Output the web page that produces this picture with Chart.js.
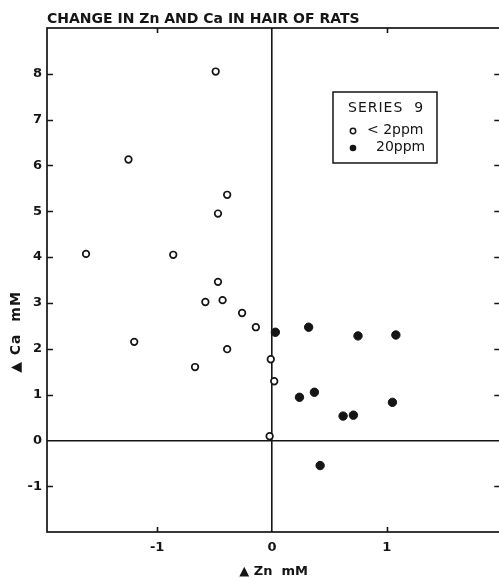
<!DOCTYPE html>
<html>
<head>
<meta charset="utf-8">
<title>Change in Zn and Ca in hair of rats</title>
<script src="https://cdn.jsdelivr.net/npm/chart.js@4"></script>
<style>
  html, body { margin: 0; padding: 0; background: #fff; overflow: hidden; }
  #wrap { width: 506px; height: 578px; }
</style>
</head>
<body>
<div id="wrap"><canvas id="hairChart" width="506" height="578"></canvas></div>
<script>
// Series 9: change in Zn (x) and Ca (y), mM
const lowZn = [-0.49, -1.25, -0.39, -0.47, -1.62, -0.86, -0.47, -0.58, -0.43, -0.26, -1.20, -0.39, -0.14, -0.67, -0.01, 0.02, -0.02];
const lowCa = [8.05, 6.13, 5.36, 4.95, 4.07, 4.05, 3.46, 3.02, 3.06, 2.78, 2.15, 1.99, 2.47, 1.60, 1.77, 1.29, 0.09];
const highZn = [0.03, 0.32, 0.75, 1.08, 0.24, 0.37, 0.62, 0.71, 1.05, 0.42];
const highCa = [2.36, 2.47, 2.28, 2.30, 0.94, 1.05, 0.53, 0.55, 0.83, -0.55];

const xTicks = [-1, 0, 1];
const yTicks = [-1, 0, 1, 2, 3, 4, 5, 6, 7, 8];

const toPoints = (xs, ys) => xs.map((x, i) => ({ x: x, y: ys[i] }));

const FONT = "'DejaVu Sans', 'Liberation Sans', sans-serif";
const INK = "#151515";

// Frame, inward tick marks, title, y label and legend box
const paperPlugin = {
  id: "paper",
  afterDraw(chart) {
    const c = chart.ctx;
    const a = chart.chartArea;
    const xs = chart.scales.x;
    const ys = chart.scales.y;
    c.save();
    c.strokeStyle = INK;
    c.fillStyle = INK;
    c.lineWidth = 1.7;
    c.strokeRect(a.left, a.top, a.right - a.left, a.bottom - a.top);

    c.lineWidth = 1.6;
    c.beginPath();
    yTicks.forEach(v => {
      if (v === 0) return;
      const py = Math.round(ys.getPixelForValue(v)) + 0.5;
      c.moveTo(a.left, py); c.lineTo(a.left + 6, py);
      c.moveTo(a.right - 6, py); c.lineTo(a.right, py);
    });
    xTicks.forEach(v => {
      if (v === 0) return;
      const px = Math.round(xs.getPixelForValue(v)) + 0.5;
      c.moveTo(px, a.bottom); c.lineTo(px, a.bottom - 5);
      c.moveTo(px, a.top); c.lineTo(px, a.top + 5);
    });
    c.stroke();

    // title
    c.font = "bold 14px " + FONT;
    c.textAlign = "left";
    c.textBaseline = "alphabetic";
    c.fillText("CHANGE IN Zn AND Ca IN HAIR OF RATS", a.left, 23);

    // y axis label
    c.save();
    c.translate(16, 332);
    c.rotate(-Math.PI / 2);
    c.textAlign = "center";
    c.textBaseline = "middle";
    c.font = "bold 14px " + FONT;
    c.letterSpacing = "1px";
    c.fillText("\u25B2 Ca  mM", 0, 0);
    c.restore();

    // legend
    const bx = 333, by = 92, bw = 104, bh = 71;
    c.lineWidth = 1.5;
    c.strokeRect(bx, by, bw, bh);
    c.textBaseline = "middle";
    c.font = "14px " + FONT;
    c.letterSpacing = "1px";
    c.fillText("SERIES  9", bx + 15, by + 16);
    c.letterSpacing = "0px";
    c.fillText("< 2ppm", bx + 34, by + 38);
    c.fillText("20ppm", bx + 43, by + 55);
    c.beginPath();
    c.arc(bx + 20, by + 39, 2.7, 0, Math.PI * 2);
    c.lineWidth = 1.5;
    c.stroke();
    c.beginPath();
    c.arc(bx + 20, by + 56, 3.3, 0, Math.PI * 2);
    c.fill();
    c.restore();
  }
};

const zeroLine = (ctx) => ctx.tick && ctx.tick.value === 0 ? INK : "rgba(0,0,0,0)";

new Chart(document.getElementById("hairChart"), {
  type: "scatter",
  data: {
    datasets: [
      {
        label: "< 2ppm",
        data: toPoints(lowZn, lowCa),
        pointStyle: "circle",
        pointRadius: 3.3,
        pointBorderWidth: 1.7,
        borderColor: INK,
        backgroundColor: "#fff"
      },
      {
        label: "20ppm",
        data: toPoints(highZn, highCa),
        pointStyle: "circle",
        pointRadius: 4.2,
        pointBorderWidth: 1,
        borderColor: INK,
        backgroundColor: INK
      }
    ]
  },
  options: {
    responsive: false,
    animation: false,
    layout: { padding: { top: 28, right: 4, left: 0, bottom: 0 } },
    plugins: {
      legend: { display: false },
      tooltip: { enabled: false }
    },
    scales: {
      x: {
        type: "linear",
        min: -1.96,
        max: 1.99,
        afterBuildTicks: (s) => { s.ticks = xTicks.map(v => ({ value: v })); },
        afterFit: (s) => { s.height = 46; },
        grid: { color: zeroLine, lineWidth: 1.6, drawTicks: false },
        border: { display: false },
        ticks: { color: INK, padding: 8, font: { family: FONT, size: 13, weight: "bold" } },
        title: {
          display: true,
          text: "\u25B2 Zn  mM",
          color: INK,
          padding: { top: 0, bottom: 0 },
          font: { family: FONT, size: 13, weight: "bold", lineHeight: 1 }
        }
      },
      y: {
        type: "linear",
        min: -2,
        max: 9,
        afterBuildTicks: (s) => { s.ticks = yTicks.map(v => ({ value: v })); },
        afterFit: (s) => { s.width = 47; },
        grid: { color: zeroLine, lineWidth: 1.6, drawTicks: false },
        border: { display: false },
        ticks: { color: INK, padding: 5, font: { family: FONT, size: 13, weight: "bold" } }
      }
    }
  },
  plugins: [paperPlugin]
});
</script>
</body>
</html>
